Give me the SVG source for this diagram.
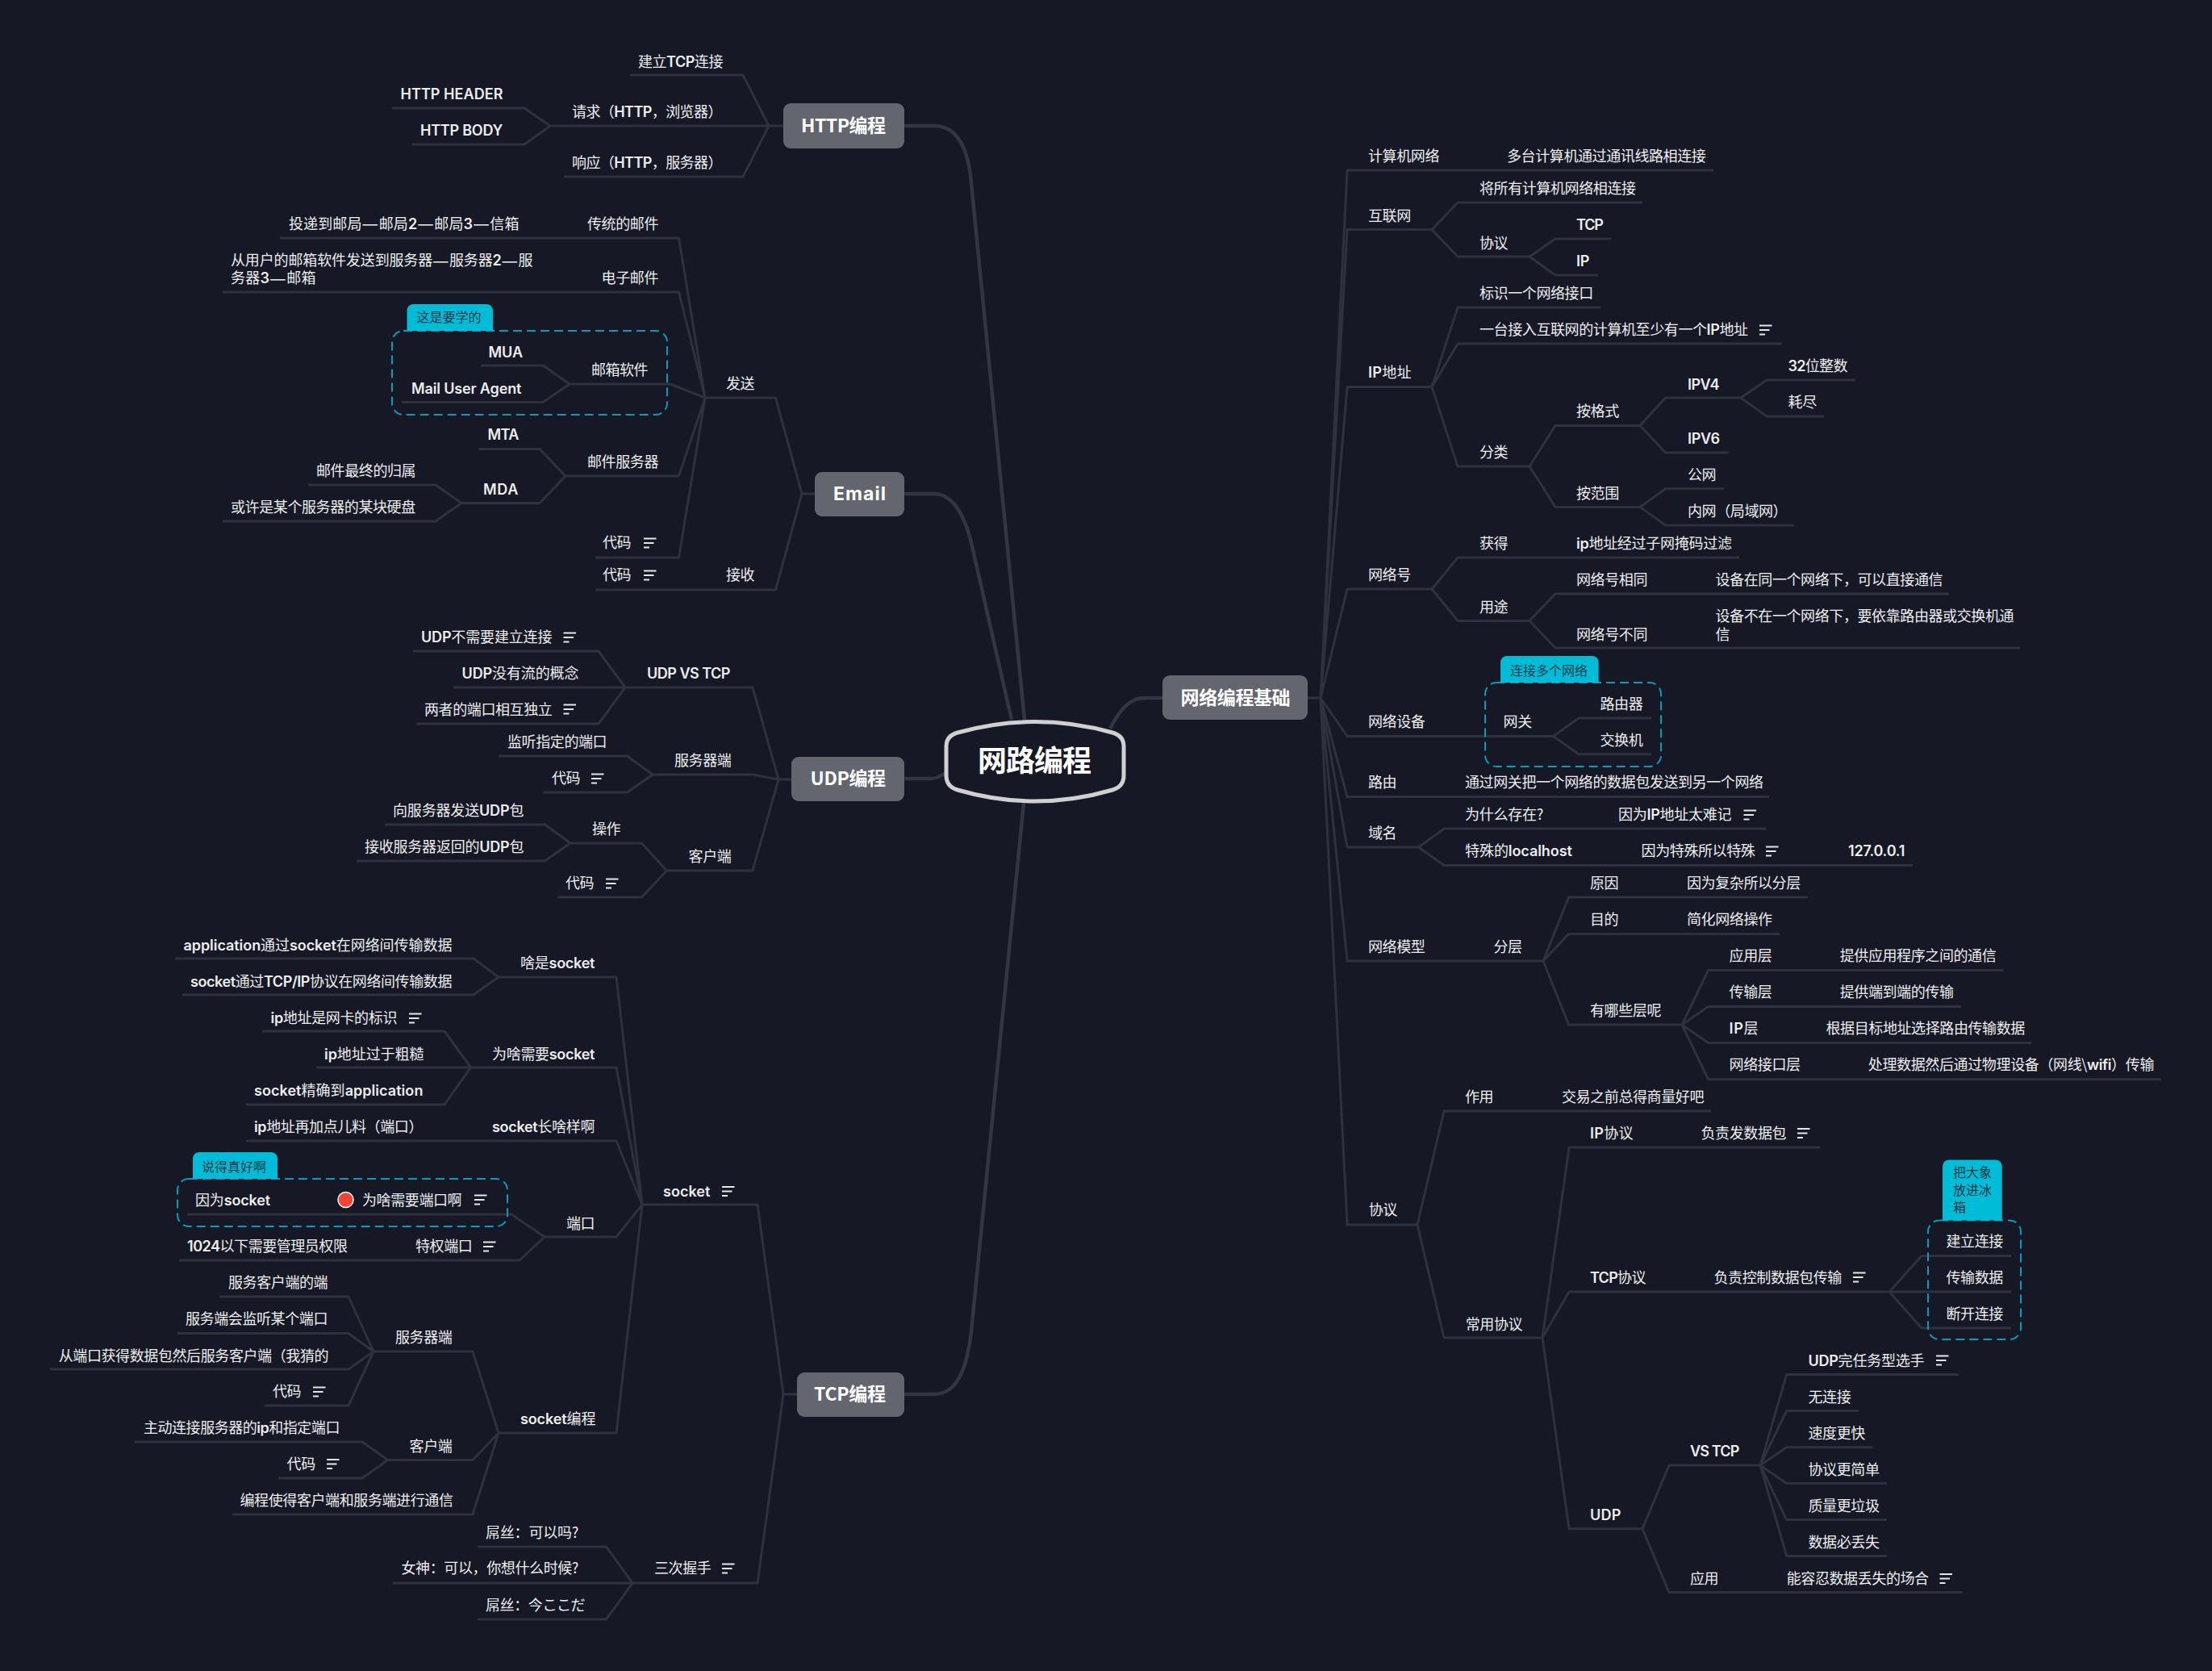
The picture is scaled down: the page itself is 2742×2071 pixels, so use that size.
<svg xmlns="http://www.w3.org/2000/svg" width="2742" height="2071" viewBox="0 0 2742 2071">
<style>
text{font-family:"Noto Sans CJK SC","Noto Sans",sans-serif;font-size:18px;letter-spacing:-.4px;fill:#ededef;white-space:pre}
.b{font-family:"Inter","Noto Sans CJK SC",sans-serif;font-weight:600}
.m{font-size:23px;font-weight:700;fill:#fff;letter-spacing:0}
.c{fill:none;stroke:#2f313e;stroke-width:3;stroke-linejoin:round}
.k{fill:none;stroke:#333541;stroke-width:4.5}
.box{fill:#63666f}
.d{fill:none;stroke:#0a9cb6;stroke-width:2;stroke-dasharray:11 6}
.tag{fill:#00bcd6}
.tt{font-size:16px;fill:#14394a;letter-spacing:0}
.n{fill:none;stroke:#e6e6e8;stroke-width:1.8}
.dash{font-size:23px;letter-spacing:0}
</style>
<defs><path id="note" class="n" d="M0 1H15.5M0 6.5H12.5M0 12H7"/></defs>
<rect width="2742" height="2071" fill="#161925"/>
<g id="connectors">
<path class="k" d="M1121 156H1158C1185 156 1198 180 1203 217L1270 892M1121 612H1158C1180 612 1196 637 1205 677L1254 892M1121 965H1154Q1162 965 1174 957M1121 1728H1158C1185 1728 1198 1700 1204 1650L1269 995M1376 903C1390 876 1402 865 1420 865H1441"/>
<path class="c" d="M971 156H953L921 93H781M953 156H682M953 156L921 219H699M682 156L650 134H486M682 156L650 179H511"/>
<path class="c" d="M1010 612H994L961.5 493H874M994 612L961.5 731H738M874 493L841.5 295H347M874 493L841.5 362H276M874 493L831 476H706M706 476L673 453H596M706 476L673 498.5H498M874 493L841.5 590H701M701 590L669 556.5H593.5M701 590L669 623.5H572M572 623.5L540 601H382M572 623.5L540 646H276M874 493L841.5 691H738"/>
<path class="c" d="M981 966H965L933 852H775M775 852L742 807H512M775 852H562M775 852L742 897H516M965 966L933 960H809M809 960L777.5 937H618M809 960L777.5 982H673.5M965 966L933 1079H826.5M826.5 1079L795.5 1045H707M707 1045L675.5 1022H477M707 1045L675.5 1067H442M826.5 1079L795.5 1112H691"/>
<path class="c" d="M988 1728H971L939 1493H796M971 1728L939 1962H784M784 1962L751.5 1917H592M784 1962H487M784 1962L751.5 2007H592M796 1493L764 1211H618M618 1211L587 1188H217M618 1211L587 1233H226M796 1493L764 1323H583.6M583.6 1323L551 1278H325M583.6 1323H392M583.6 1323L551 1369H305M796 1493L764 1414H305M796 1493L764 1533H675M675 1533L634 1505H232M675 1533L644 1562H222M796 1493L764 1776H618M618 1776L586 1675H463M463 1675L432 1607H272M463 1675L432 1652.5H220M463 1675L432 1697H62M463 1675L432 1742H327.5M618 1776L586 1809.5H480.6M480.6 1809.5L449 1787H167M480.6 1809.5L449 1832H345M618 1776L586 1877H288"/>
<path class="c" d="M1621 865H1637L1670 211H2124M1637 865L1670 284.6H1775M1775 284.6L1807 251H2036M1775 284.6L1807 318H1896M1896 318L1928 296H1997M1896 318L1928 341H1981M1637 865L1670 479.5H1775M1775 479.5L1807 381H1984M1775 479.5L1807 426H2208.5M1775 479.5L1807 578H1896M1896 578L1928 527.4H2033M2033 527.4L2064.5 493H2158M2158 493L2190 471H2300M2158 493L2190 516H2261M2033 527.4L2064.5 561H2142.5M1896 578L1928 628.4H2033M2033 628.4L2064.5 605.7H2137M2033 628.4L2064.5 651H2224M1637 865L1670 730H1775M1775 730L1807 691H2156M1775 730L1807 769.4H1896M1896 769.4L1928 736H2416M1896 769.4L1928 803H2504"/>
<path class="c" d="M1637 865L1670 912.5H1925.5M1925.5 912.5L1957 890H2047M1925.5 912.5L1957 934.7H2047M1637 865L1670 987.5H2193M1637 865L1670 1050H1758.4M1758.4 1050L1790 1027H2189M1758.4 1050L1790 1072.5H2371M1637 865L1670 1191H1913M1913 1191L1944.6 1112H2241M1913 1191L1944.6 1157.4H2206M1913 1191L1944.6 1270H2085M2085 1270L2117.5 1202.6H2483.5M2085 1270L2117.5 1247.4H2431M2085 1270L2117.5 1292.5H2518.6M2085 1270L2117.5 1337.7H2679M1637 865L1670 1518H1757M1757 1518L1790 1377H2121M1757 1518L1790 1658H1912M1912 1658L1945 1422H2256M1912 1658L1945 1601H2342M2342 1601L2382 1556.4H2493M2342 1601H2493M2342 1601L2382 1646H2493M1912 1658L1945 1894.7H2036M2036 1894.7L2069 1816H2182M2182 1816L2214.7 1703.4H2427.7M2182 1816L2214.7 1748.5H2304M2182 1816L2214.7 1793.7H2321M2182 1816L2214.7 1838.5H2339M2182 1816L2214.7 1883.6H2339M2182 1816L2214.7 1928.4H2339M2036 1894.7L2069 1973.6H2432.6"/>
</g>
<g id="root"><path d="M1187 908Q1283 881 1379 908Q1393 912 1393 925V961Q1393 975 1379 979Q1283 1007 1187 979Q1173 975 1173 961V925Q1173 912 1187 908Z" fill="#161925" stroke="#d0d0d0" stroke-width="5"/><text x="1282" y="956" text-anchor="middle" style="font-size:36px;font-weight:700;fill:#fff;letter-spacing:-1px">网路编程</text></g>
<g id="http"><rect class="box" x="971" y="128" width="150" height="56" rx="9"/><text class="m" x="993" y="164" textLength="105">HTTP编程</text></g>
<g id="email"><rect class="box" x="1010" y="585" width="111" height="55" rx="9"/><text class="m" x="1033" y="620" textLength="65" style="font-family:Inter,sans-serif">Email</text></g>
<g id="udp"><rect class="box" x="981" y="938" width="140" height="55" rx="9"/><text class="m" x="1004.6" y="973" textLength="93.4">UDP编程</text></g>
<g id="tcp"><rect class="box" x="988" y="1701" width="133" height="55" rx="9"/><text class="m" x="1009" y="1736" textLength="89">TCP编程</text></g>
<g id="base"><rect class="box" x="1441" y="837" width="180" height="55" rx="9"/><text class="m" x="1463.6" y="873" textLength="136">网络编程基础</text></g>

<g id="http-kids">
<g id="h1"><text x="791" y="83" textLength="105">建立<tspan class="b">TCP</tspan>连接</text></g>
<g id="h2"><text x="709" y="145" textLength="186">请求（<tspan class="b">HTTP</tspan>，浏览器）</text></g>
<g id="h3"><text class="b" x="496.5" y="123" textLength="126.5">HTTP HEADER</text></g>
<g id="h4"><text class="b" x="521" y="168" textLength="102">HTTP BODY</text></g>
<g id="h5"><text x="709" y="208" textLength="186">响应（<tspan class="b">HTTP</tspan>，服务器）</text></g>
</g>
<g id="email-kids">
<g id="e1"><text x="900" y="481.5">发送</text></g>
<g id="e2"><text x="900" y="719">接收</text></g>
<g id="e3"><text x="728" y="283.5">传统的邮件</text></g>
<g id="e4"><text x="358" y="283.5" textLength="285">投递到邮局<tspan class="dash" dy="1.6">—</tspan><tspan dy="-1.6">邮局</tspan><tspan class="b">2</tspan><tspan class="dash" dy="1.6">—</tspan><tspan dy="-1.6">邮局</tspan><tspan class="b">3</tspan><tspan class="dash" dy="1.6">—</tspan><tspan dy="-1.6">信箱</tspan></text></g>
<g id="e5"><text x="745.6" y="351">电子邮件</text></g>
<g id="e6"><text x="286" y="329" textLength="374">从用户的邮箱软件发送到服务器<tspan class="dash" dy="1.6">—</tspan><tspan dy="-1.6">服务器</tspan><tspan class="b">2</tspan><tspan class="dash" dy="1.6">—</tspan><tspan dy="-1.6">服</tspan></text><text x="286" y="351" textLength="105">务器<tspan class="b">3</tspan><tspan class="dash" dy="1.6">—</tspan><tspan dy="-1.6">邮箱</tspan></text></g>
<g id="e7"><path class="d" d="M500 410H813a14 14 0 0 1 14 14V500a14 14 0 0 1-14 14H500a14 14 0 0 1-14-14V424a14 14 0 0 1 14-14Z"/><path class="tag" d="M504.5 410V385a8 8 0 0 1 8-8H603a8 8 0 0 1 8 8V410Z"/><text class="tt" x="516.6" y="399">这是要学的</text></g>
<g id="e8"><text x="733" y="465" textLength="70">邮箱软件</text></g>
<g id="e9"><text class="b" x="605.6" y="442.5" textLength="42">MUA</text></g>
<g id="e10"><text class="b" x="510" y="488" textLength="136">Mail User Agent</text></g>
<g id="e11"><text x="728" y="579">邮件服务器</text></g>
<g id="e12"><text class="b" x="604.5" y="545" textLength="38.5">MTA</text></g>
<g id="e13"><text class="b" x="599" y="613" textLength="43">MDA</text></g>
<g id="e14"><text x="392" y="589.5">邮件最终的归属</text></g>
<g id="e15"><text x="286" y="634.5">或许是某个服务器的某块硬盘</text></g>
<g id="e16"><text x="747" y="679">代码</text><use href="#note" x="798" y="666.5"/></g>
<g id="e17"><text x="747" y="719">代码</text><use href="#note" x="798" y="706.5"/></g>
</g>
<g id="udp-kids">
<g id="u1"><text class="b" x="802" y="841" textLength="103">UDP VS TCP</text></g>
<g id="u2"><text x="522" y="796" textLength="162"><tspan class="b">UDP</tspan>不需要建立连接</text><use href="#note" x="698.5" y="783.5"/></g>
<g id="u3"><text x="572.5" y="841" textLength="144.5"><tspan class="b">UDP</tspan>没有流的概念</text></g>
<g id="u4"><text x="526" y="885.5">两者的端口相互独立</text><use href="#note" x="698.5" y="872.5"/></g>
<g id="u5"><text x="836" y="949">服务器端</text></g>
<g id="u6"><text x="629" y="926">监听指定的端口</text></g>
<g id="u7"><text x="684" y="971">代码</text><use href="#note" x="733" y="958.5"/></g>
<g id="u8"><text x="853.6" y="1068">客户端</text></g>
<g id="u9"><text x="734" y="1034">操作</text></g>
<g id="u10"><text x="487" y="1011" textLength="162">向服务器发送<tspan class="b">UDP</tspan>包</text></g>
<g id="u11"><text x="452" y="1056" textLength="197">接收服务器返回的<tspan class="b">UDP</tspan>包</text></g>
<g id="u12"><text x="701" y="1101">代码</text><use href="#note" x="751" y="1088.5"/></g>
</g>
<g id="tcp-kids">
<g id="t1"><text class="b" x="822" y="1483" textLength="58">socket</text><use href="#note" x="895" y="1470"/></g>
<g id="t2"><text x="811" y="1950">三次握手</text><use href="#note" x="895" y="1937.5"/></g>
<g id="t3"><text x="602" y="1906" textLength="115">屌丝：可以吗?</text></g>
<g id="t4"><text x="497.5" y="1950" textLength="219.5">女神：可以，你想什么时候?</text></g>
<g id="t5"><text x="602" y="1995.5">屌丝：今ここだ</text></g>
<g id="t6"><text x="645" y="1200" textLength="92">啥是<tspan class="b">socket</tspan></text></g>
<g id="t7"><text x="227.5" y="1178" textLength="332.5"><tspan class="b">application</tspan>通过<tspan class="b">socket</tspan>在网络间传输数据</text></g>
<g id="t8"><text x="236" y="1223" textLength="324"><tspan class="b">socket</tspan>通过<tspan class="b">TCP/IP</tspan>协议在网络间传输数据</text></g>
<g id="t9"><text x="610" y="1313" textLength="127">为啥需要<tspan class="b">socket</tspan></text></g>
<g id="t10"><text x="335.6" y="1268" textLength="156.4"><tspan class="b">ip</tspan>地址是网卡的标识</text><use href="#note" x="507" y="1255.5"/></g>
<g id="t11"><text x="402" y="1313" textLength="123"><tspan class="b">ip</tspan>地址过于粗糙</text></g>
<g id="t12"><text x="315" y="1358" textLength="209"><tspan class="b">socket</tspan>精确到<tspan class="b">application</tspan></text></g>
<g id="t13"><text x="610" y="1403" textLength="127"><tspan class="b">socket</tspan>长啥样啊</text></g>
<g id="t14"><text x="315" y="1403" textLength="209"><tspan class="b">ip</tspan>地址再加点儿料（端口）</text></g>
<g id="t15"><text x="702" y="1523">端口</text></g>
<g id="t16"><path class="d" d="M234 1461H615a14 14 0 0 1 14 14V1506a14 14 0 0 1-14 14H234a14 14 0 0 1-14-14V1475a14 14 0 0 1 14-14Z"/><path class="tag" d="M239 1461V1436a8 8 0 0 1 8-8H336a8 8 0 0 1 8 8V1461Z"/><text class="tt" x="250" y="1451.5">说得真好啊</text></g>
<g id="t17"><text x="242" y="1493.5" textLength="92.6">因为<tspan class="b">socket</tspan></text></g>
<g id="t18"><circle cx="428.5" cy="1487" r="9.5" fill="#f04437" stroke="#fff" stroke-width="1.5"/><text x="449" y="1493.5">为啥需要端口啊</text><use href="#note" x="588" y="1480.5"/></g>
<g id="t19"><text x="515" y="1551">特权端口</text><use href="#note" x="599" y="1538.5"/></g>
<g id="t20"><text x="232" y="1551" textLength="198.5"><tspan class="b">1024</tspan>以下需要管理员权限</text></g>
<g id="t21"><text x="645" y="1765" textLength="93"><tspan class="b">socket</tspan>编程</text></g>
<g id="t22"><text x="490" y="1664">服务器端</text></g>
<g id="t23"><text x="283" y="1595.5">服务客户端的端</text></g>
<g id="t24"><text x="230" y="1640.5">服务端会监听某个端口</text></g>
<g id="t25"><text x="72.7" y="1687">从端口获得数据包然后服务客户端（我猜的</text></g>
<g id="t26"><text x="338" y="1731">代码</text><use href="#note" x="388" y="1718.5"/></g>
<g id="t27"><text x="507.6" y="1799">客户端</text></g>
<g id="t28"><text x="178" y="1776" textLength="243">主动连接服务器的<tspan class="b">ip</tspan>和指定端口</text></g>
<g id="t29"><text x="355.6" y="1821">代码</text><use href="#note" x="405" y="1808"/></g>
<g id="t30"><text x="297.5" y="1866">编程使得客户端和服务端进行通信</text></g>
</g>
<g id="base-kids">
<g id="b1"><text x="1696" y="200">计算机网络</text></g>
<g id="b2"><text x="1868" y="200">多台计算机通过通讯线路相连接</text></g>
<g id="b3"><text x="1696" y="274">互联网</text></g>
<g id="b4"><text x="1834" y="240">将所有计算机网络相连接</text></g>
<g id="b5"><text x="1834" y="307.5">协议</text></g>
<g id="b6"><text class="b" x="1954" y="285" textLength="33.5">TCP</text></g>
<g id="b7"><text class="b" x="1954" y="330" textLength="16">IP</text></g>
<g id="b8"><text x="1696" y="468" textLength="53"><tspan class="b">IP</tspan>地址</text></g>
<g id="b9"><text x="1834" y="370">标识一个网络接口</text></g>
<g id="b10"><text x="1834" y="415" textLength="332.6">一台接入互联网的计算机至少有一个<tspan class="b">IP</tspan>地址</text><use href="#note" x="2181" y="402.5"/></g>
<g id="b11"><text x="1834" y="567">分类</text></g>
<g id="b12"><text x="1954" y="516">按格式</text></g>
<g id="b13"><text class="b" x="2092" y="482.5" textLength="39">IPV4</text></g>
<g id="b14"><text x="2216.6" y="460" textLength="73.4"><tspan class="b">32</tspan>位整数</text></g>
<g id="b15"><text x="2216.6" y="505">耗尽</text></g>
<g id="b16"><text class="b" x="2092" y="549.5" textLength="39.6">IPV6</text></g>
<g id="b17"><text x="1954" y="618">按范围</text></g>
<g id="b18"><text x="2092" y="594.5">公网</text></g>
<g id="b19"><text x="2092" y="640">内网（局域网）</text></g>
<g id="b20"><text x="1696" y="719">网络号</text></g>
<g id="b21"><text x="1834" y="680">获得</text></g>
<g id="b22"><text x="1954" y="680" textLength="192.6"><tspan class="b">ip</tspan>地址经过子网掩码过滤</text></g>
<g id="b23"><text x="1834" y="759">用途</text></g>
<g id="b24"><text x="1954" y="724.5">网络号相同</text></g>
<g id="b25"><text x="2126.5" y="724.5">设备在同一个网络下，可以直接通信</text></g>
<g id="b26"><text x="1954" y="793">网络号不同</text></g>
<g id="b27"><text x="2126.5" y="770">设备不在一个网络下，要依靠路由器或交换机通</text><text x="2126.5" y="793">信</text></g>
<g id="b28"><text x="1696" y="901">网络设备</text></g>
<g id="b29"><path class="d" d="M1855 846H2045a14 14 0 0 1 14 14V936a14 14 0 0 1-14 14H1855a14 14 0 0 1-14-14V860a14 14 0 0 1 14-14Z"/><path class="tag" d="M1860 846V821a8 8 0 0 1 8-8H1973.6a8 8 0 0 1 8 8V846Z"/><text class="tt" x="1872" y="836.5">连接多个网络</text></g>
<g id="b30"><text x="1863.6" y="901">网关</text></g>
<g id="b31"><text x="1983.5" y="879">路由器</text></g>
<g id="b32"><text x="1983.5" y="923.5">交换机</text></g>
<g id="b33"><text x="1696" y="975.5">路由</text></g>
<g id="b34"><text x="1816" y="975.5">通过网关把一个网络的数据包发送到另一个网络</text></g>
<g id="b35"><text x="1696" y="1038.5">域名</text></g>
<g id="b36"><text x="1816" y="1016" textLength="97">为什么存在?</text></g>
<g id="b37"><text x="2006" y="1016" textLength="140">因为<tspan class="b">IP</tspan>地址太难记</text><use href="#note" x="2161.5" y="1003.5"/></g>
<g id="b38"><text x="1816" y="1061" textLength="132.5">特殊的<tspan class="b">localhost</tspan></text></g>
<g id="b39"><text x="2034.6" y="1061">因为特殊所以特殊</text><use href="#note" x="2189" y="1048.5"/></g>
<g id="b40"><text class="b" x="2291" y="1061" textLength="70">127.0.0.1</text></g>
<g id="b41"><text x="1696" y="1179.5">网络模型</text></g>
<g id="b42"><text x="1851.5" y="1179.5">分层</text></g>
<g id="b43"><text x="1971" y="1100.7">原因</text></g>
<g id="b44"><text x="2091" y="1100.7">因为复杂所以分层</text></g>
<g id="b45"><text x="1971" y="1145.5">目的</text></g>
<g id="b46"><text x="2091" y="1145.5">简化网络操作</text></g>
<g id="b47"><text x="1971" y="1258.7">有哪些层呢</text></g>
<g id="b48"><text x="2143.6" y="1190.6">应用层</text></g>
<g id="b49"><text x="2280.7" y="1190.6">提供应用程序之间的通信</text></g>
<g id="b50"><text x="2143.6" y="1235.8">传输层</text></g>
<g id="b51"><text x="2280.7" y="1235.8">提供端到端的传输</text></g>
<g id="b52"><text x="2143.6" y="1280.5" textLength="35.4"><tspan class="b">IP</tspan>层</text></g>
<g id="b53"><text x="2263.5" y="1280.5">根据目标地址选择路由传输数据</text></g>
<g id="b54"><text x="2143.6" y="1325.7">网络接口层</text></g>
<g id="b55"><text x="2315.8" y="1325.7" textLength="354.2">处理数据然后通过物理设备（网线\<tspan class="b">wifi</tspan>）传输</text></g>
<g id="b56"><text x="1696.7" y="1506">协议</text></g>
<g id="b57"><text x="1816" y="1366">作用</text></g>
<g id="b58"><text x="1936" y="1366">交易之前总得商量好吧</text></g>
<g id="b59"><text x="1816.7" y="1648">常用协议</text></g>
<g id="b60"><text x="1971" y="1410.5" textLength="53"><tspan class="b">IP</tspan>协议</text></g>
<g id="b61"><text x="2108.5" y="1410.5">负责发数据包</text><use href="#note" x="2228" y="1398"/></g>
<g id="b62"><text x="1971" y="1589.5" textLength="69"><tspan class="b">TCP</tspan>协议</text></g>
<g id="b63"><text x="2124.5" y="1589.5">负责控制数据包传输</text><use href="#note" x="2297" y="1576.5"/></g>
<g id="b64"><path class="d" d="M2404 1512.4H2491a14 14 0 0 1 14 14V1646a14 14 0 0 1-14 14H2404a14 14 0 0 1-14-14V1526.4a14 14 0 0 1 14-14Z"/><path class="tag" d="M2408 1512.4V1445.4a8 8 0 0 1 8-8H2473.7a8 8 0 0 1 8 8V1512.4Z"/><text class="tt" x="2421" y="1459">把大象</text><text class="tt" x="2421" y="1481">放进冰</text><text class="tt" x="2421" y="1502">箱</text></g>
<g id="b65"><text x="2412.5" y="1545">建立连接</text></g>
<g id="b66"><text x="2412.5" y="1589.5">传输数据</text></g>
<g id="b67"><text x="2412.5" y="1634.5">断开连接</text></g>
<g id="b68"><text class="b" x="1971" y="1883.5" textLength="38">UDP</text></g>
<g id="b69"><text class="b" x="2095" y="1804.5" textLength="61">VS TCP</text></g>
<g id="b70"><text x="2241.5" y="1692.5" textLength="143.5"><tspan class="b">UDP</tspan>完任务型选手</text><use href="#note" x="2400" y="1679.5"/></g>
<g id="b71"><text x="2241.5" y="1737.5">无连接</text></g>
<g id="b72"><text x="2241.5" y="1782.5">速度更快</text></g>
<g id="b73"><text x="2241.5" y="1827.5">协议更简单</text></g>
<g id="b74"><text x="2241.5" y="1872.5">质量更垃圾</text></g>
<g id="b75"><text x="2241.5" y="1917.5">数据必丢失</text></g>
<g id="b76"><text x="2095" y="1963">应用</text></g>
<g id="b77"><text x="2214.7" y="1963">能容忍数据丢失的场合</text><use href="#note" x="2404.5" y="1950"/></g>
</g>
</svg>
